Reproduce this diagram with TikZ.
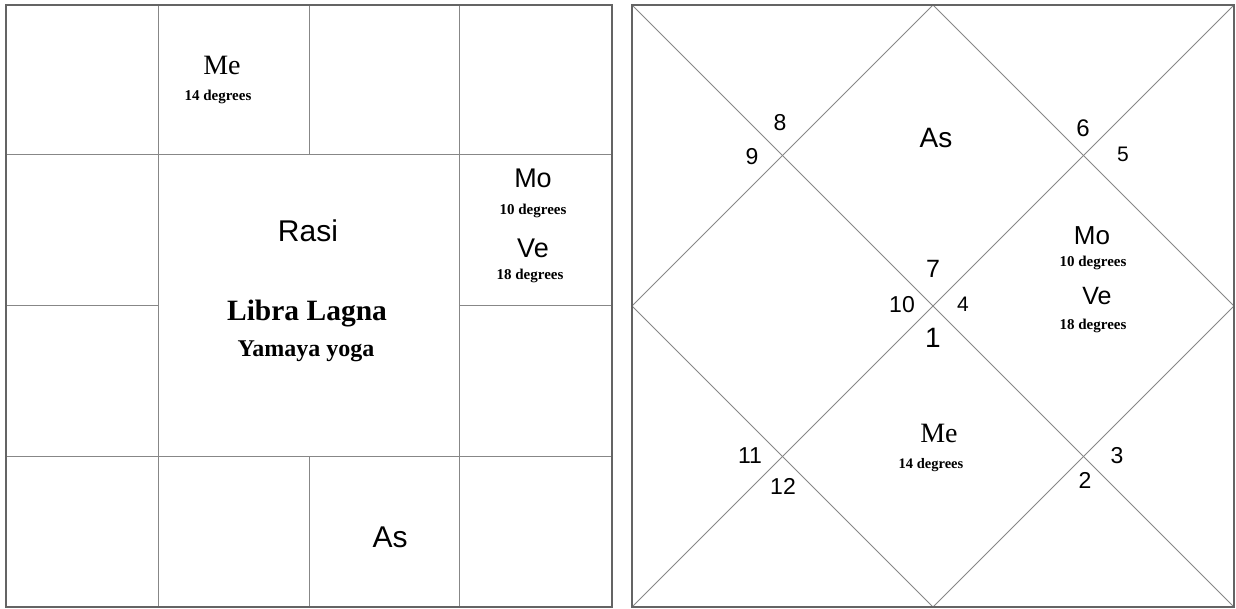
\documentclass[tikz,border=0pt]{standalone}
\usepackage{fontspec}
\setmainfont{Liberation Serif}
\setsansfont{Liberation Sans}
\usetikzlibrary{calc}
\definecolor{GridGray}{RGB}{135,135,135}
\definecolor{FrameGray}{RGB}{100,100,100}
\tikzset{
  gridline/.style={draw=GridGray,line width=1pt},
  frameline/.style={draw=FrameGray,line width=2.5pt},
  planet/.style={font=\sffamily\fontsize{27}{30}\selectfont,inner sep=0pt,anchor=base},
  planetserif/.style={font=\rmfamily\fontsize{28}{30}\selectfont,inner sep=0pt,anchor=base},
  degree/.style={font=\rmfamily\bfseries\fontsize{15}{18}\selectfont,inner sep=0pt,anchor=base},
  housenum/.style={font=\sffamily\fontsize{23}{26}\selectfont,inner sep=0pt,anchor=base},
}

\begin{document}
\begin{tikzpicture}[x=1pt,y=-1pt]
\useasboundingbox (0,0) rectangle (1236,609);
% rasi chart (south style)
\draw[gridline] (158,5) -- (158,607);
\draw[gridline] (459,5) -- (459,607);
\draw[gridline] (309,5) -- (309,155);
\draw[gridline] (309,456) -- (309,607);
\draw[gridline] (6,155) -- (612,155);
\draw[gridline] (6,456) -- (612,456);
\draw[gridline] (6,306) -- (158,306);
\draw[gridline] (459,306) -- (612,306);
\draw[frameline] (6,5) rectangle (612,607);
\node[planetserif] (meL) at (222,75) {Me};
\node[degree] (meLdeg) at (218,101) {14 degrees};
\node[planet,font=\sffamily\fontsize{30}{32}\selectfont] (rasi) at (308,242) {Rasi};
\node[degree,font=\rmfamily\bfseries\fontsize{29.5}{32}\selectfont] (lagna) at (307,321) {Libra Lagna};
\node[degree,font=\rmfamily\bfseries\fontsize{24}{26}\selectfont] (yoga) at (306,356) {Yamaya yoga};
\node[planet,font=\sffamily\fontsize{27}{30}\selectfont] (moL) at (533,188) {Mo};
\node[degree] (moLdeg) at (533,215) {10 degrees};
\node[planet] (veL) at (533,258) {Ve};
\node[degree] (veLdeg) at (530,280) {18 degrees};
\node[planet,font=\sffamily\fontsize{30}{32}\selectfont] (asL) at (390,547) {As};
% navamsa style chart (north style)
\draw[gridline] (632,5) -- (1234,607);
\draw[gridline] (1234,5) -- (632,607);
\draw[gridline] (933,5) -- (1234,306) -- (933,607) -- (632,306) -- cycle;
\draw[frameline] (632,5) rectangle (1234,607);
\node[housenum] (h8) at (780,131) {8};
\node[housenum] (h9) at (752,165) {9};
\node[planet,font=\sffamily\fontsize{28}{30}\selectfont] (asR) at (936,148) {As};
\node[housenum,font=\sffamily\fontsize{24}{26}\selectfont] (h6) at (1083,137) {6};
\node[housenum,font=\sffamily\fontsize{21}{24}\selectfont] (h5) at (1123,162) {5};
\node[planet,font=\sffamily\fontsize{26}{30}\selectfont] (moR) at (1092,245) {Mo};
\node[degree] (moRdeg) at (1093,267) {10 degrees};
\node[planet,font=\sffamily\fontsize{25}{30}\selectfont] (veR) at (1097,305) {Ve};
\node[degree] (veRdeg) at (1093,330) {18 degrees};
\node[housenum,font=\sffamily\fontsize{25}{26}\selectfont] (h7) at (933,278) {7};
\node[housenum] (h10) at (902,313) {10};
\node[housenum,font=\sffamily\fontsize{21}{24}\selectfont] (h4) at (963,312) {4};
\node[housenum,font=\sffamily\fontsize{28}{30}\selectfont] (h1) at (933,347) {1};
\node[planetserif] (meR) at (939,442) {Me};
\node[degree,font=\rmfamily\bfseries\fontsize{14.5}{18}\selectfont] (meRdeg) at (931,468) {14 degrees};
\node[housenum] (h11) at (750,463) {11};
\node[housenum] (h12) at (783,494) {12};
\node[housenum] (h3) at (1117,463) {3};
\node[housenum] (h2) at (1085,488) {2};
\end{tikzpicture}
\end{document}
